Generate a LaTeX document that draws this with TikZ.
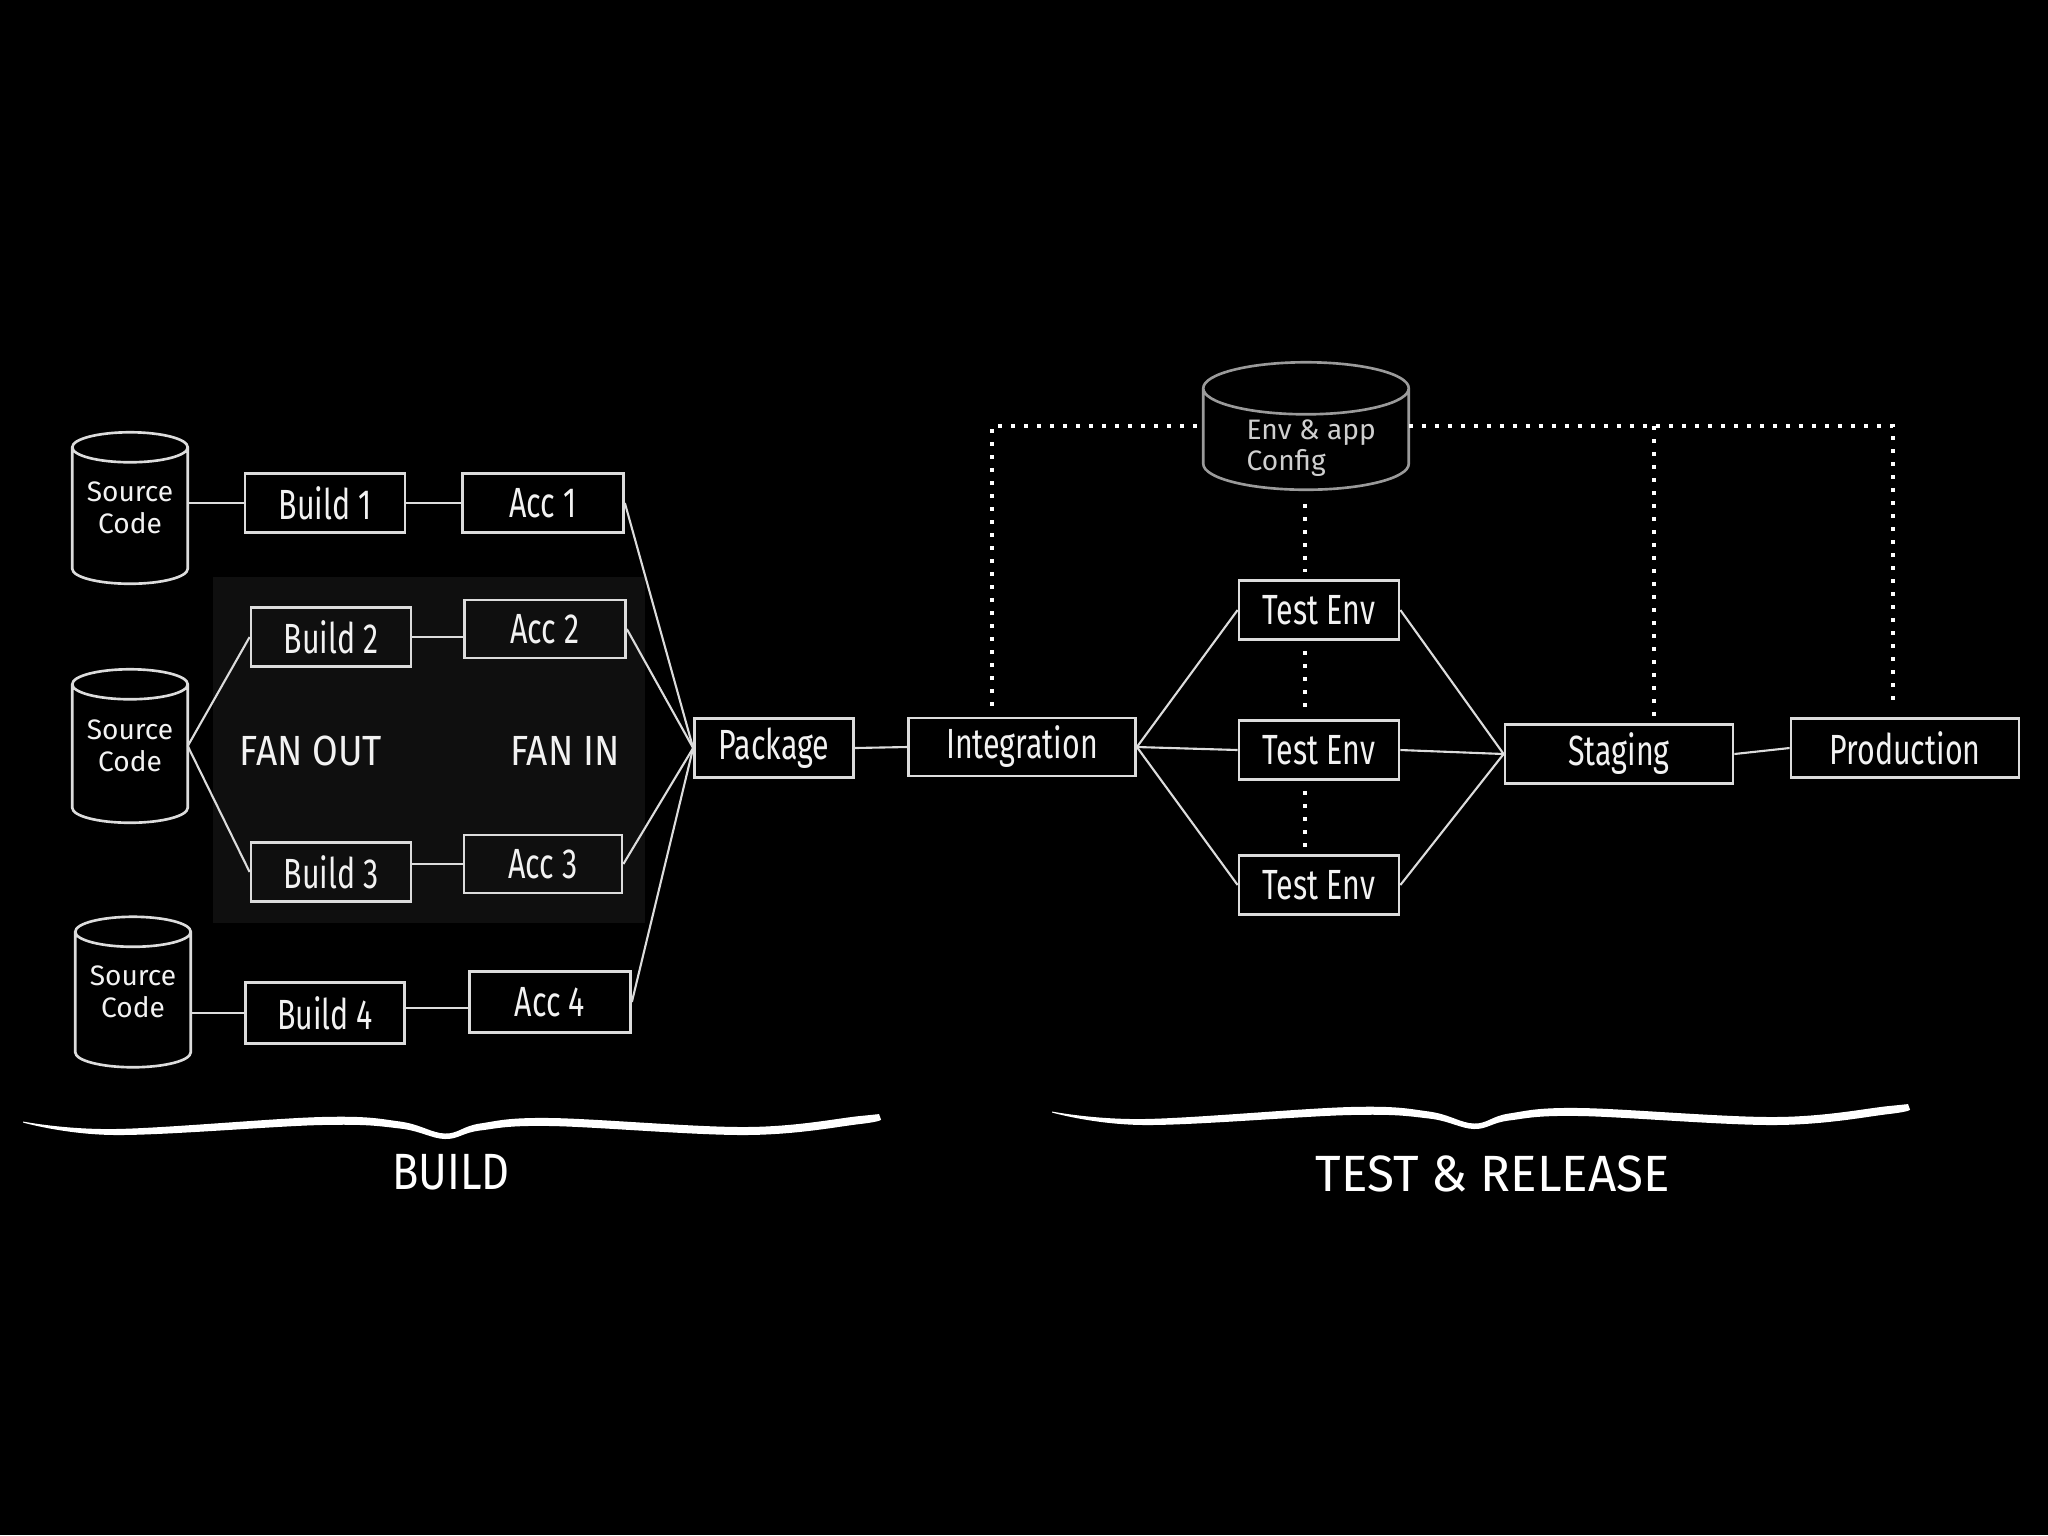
\documentclass[tikz,border=0pt]{standalone}
\usepackage{fontspec}
\setmainfont{Fira Sans}
\newfontfamily\handn[FakeStretch=0.72]{Fira Sans}
\newfontfamily\handm[FakeStretch=0.88]{Fira Sans}
\newfontfamily\handb[FakeStretch=0.85]{Fira Sans}
\newfontfamily\handw[FakeStretch=0.97]{Fira Sans}
\usetikzlibrary{calc}

\definecolor{ink}{HTML}{DCDCDC}
\definecolor{txt}{HTML}{F2F2F2}
\definecolor{envgray}{HTML}{9A9A9A}
\definecolor{envtxt}{HTML}{CFCFCF}
\definecolor{panel}{HTML}{0F0F0F}

\tikzset{
  stage/.style={draw=ink, line width=0.75pt, minimum height=0.59cm, inner sep=0pt,
    font=\handn\fontsize{12pt}{14pt}\selectfont, text=txt},
  link/.style={draw=ink, line width=0.6pt},
  dots/.style={draw=white, line width=1.15pt, dash pattern=on 1.15pt off 2.55pt},
  dbnode/.style={minimum width=1.14cm, inner sep=0pt, align=center,
    font=\fontsize{8pt}{9pt}\selectfont, text=txt},
  biglabel/.style={font=\fontsize{14.5pt}{16pt}\selectfont, text=white},
  fanlabel/.style={font=\handm\fontsize{12pt}{14pt}\selectfont, text=txt},
  wavebrace/.pic={
    \fill[white] plot[smooth, tension=0.6] coordinates {(23,-1121.5) (115,-1129) (321,-1117) (400,-1121.5) (445,-1133.5) (480,-1123.5) (551,-1118) (746,-1127) (860,-1116) (879,-1114)}
      -- plot[smooth, tension=0.6] coordinates {(881,-1119.5) (860,-1124) (746,-1135) (551,-1126) (480,-1130.5) (445,-1139) (400,-1128.5) (321,-1125) (115,-1135) (23,-1122.5)} -- cycle;
  },
}

% cylinder outline around a named node: #1 name, #2 ellipse y radius, #3 colour
\newcommand\drawdb[3]{%
  \draw[line width=0.75pt, draw=#3] let \p1=(#1.north west), \p2=(#1.south east) in
    (\x1,\y1-#2) -- (\x1,\y2+#2)
    arc[start angle=180, end angle=360, x radius={(\x2-\x1)/2}, y radius=#2]
    -- (\x2,\y1-#2)
    (#1.north) ++(0,-#2) ellipse[x radius={(\x2-\x1)/2}, y radius=#2];
}

\begin{document}
\begin{tikzpicture}[x=0.01cm, y=0.01cm]
\fill[black] (0,0) rectangle (2048,-1535);
\useasboundingbox (0,0) rectangle (2048,-1535);

% fan-out / fan-in panel
\fill[panel] (213,-577) rectangle (645,-923);

% source code stores
\node[dbnode, minimum height=1.50cm] (sc1) at (130,-508) {Source\\Code};
\node[dbnode, minimum height=1.52cm] (sc2) at (130,-746) {Source\\Code};
\node[dbnode, minimum height=1.49cm] (sc3) at (133,-992) {Source\\Code};
\drawdb{sc1}{0.15cm}{ink}
\drawdb{sc2}{0.15cm}{ink}
\drawdb{sc3}{0.15cm}{ink}

% env config store
\node[minimum width=2.04cm, minimum height=1.26cm, inner sep=0pt] (env) at (1306,-426) {};
\drawdb{env}{0.26cm}{envgray}
\node[anchor=west, align=left, inner sep=0pt, text=envtxt,
      font=\fontsize{8pt}{7.2pt}\selectfont] (envlabel) at (1246,-448) {Env \& app\\Config};

% build stages
\node[stage, minimum width=1.60cm] (b1) at (325,-503) {Build 1};
\node[stage, minimum width=1.61cm] (a1) at (543,-503) {Acc 1};
\node[stage, minimum width=1.60cm] (b2) at (331,-637) {Build 2};
\node[stage, minimum width=1.61cm, minimum height=0.58cm] (a2) at (545,-629) {Acc 2};
\node[stage, minimum width=1.60cm] (b3) at (331,-872) {Build 3};
\node[stage, minimum width=1.58cm, minimum height=0.58cm] (a3) at (543,-864) {Acc 3};
\node[stage, minimum width=1.59cm, minimum height=0.61cm] (b4) at (325,-1013) {Build 4};
\node[stage, minimum width=1.61cm, minimum height=0.61cm] (a4) at (550,-1002) {Acc 4};

\node[fanlabel] (fanout) at (311,-751) {FAN OUT};
\node[fanlabel] (fanin) at (565,-751) {FAN IN};

% release stages
\node[stage, minimum width=1.59cm] (pkg) at (774,-748) {Package};
\node[stage, minimum width=2.27cm, minimum height=0.58cm] (integ) at (1022,-747) {Integration};
\node[stage, minimum width=1.60cm] (t1) at (1319,-610) {Test Env};
\node[stage, minimum width=1.60cm] (t2) at (1319,-750) {Test Env};
\node[stage, minimum width=1.60cm] (t3) at (1319,-885) {Test Env};
\node[stage, minimum width=2.28cm] (stg) at (1619,-754) {Staging};
\node[stage, minimum width=2.28cm] (prod) at (1905,-748) {Production};

% solid connectors
\coordinate (row4) at (0,-1008);
\draw[link] (sc1.east |- b1.west) -- (b1.west);
\draw[link] (b1.east) -- (a1.west);
\draw[link] (sc2.east) -- (b2.west);
\draw[link] (sc2.east) -- (b3.west);
\draw[link] (b2.east) -- (a2.west |- b2.east);
\draw[link] (b3.east |- a3.west) -- (a3.west);
\draw[link] (sc3.east |- b4.west) -- (b4.west);
\draw[link] (b4.east |- row4) -- (a4.west |- row4);
\draw[link] (a1.east) -- (pkg.west);
\draw[link] (a2.east) -- (pkg.west);
\draw[link] (a3.east) -- (pkg.west);
\draw[link] (a4.east) -- (pkg.west);
\draw[link] (pkg.east) -- (integ.west);
\draw[link] (integ.east) -- (t1.west);
\draw[link] (integ.east) -- (t2.west);
\draw[link] (integ.east) -- (t3.west);
\draw[link] (t1.east) -- (stg.west);
\draw[link] (t2.east) -- (stg.west);
\draw[link] (t3.east) -- (stg.west);
\draw[link] (stg.east) -- (prod.west);

% dotted config lines
\coordinate (d1) at (992,-426);
\coordinate (d2) at (1654,-426);
\coordinate (d3) at (1893,-426);
\coordinate (d4) at (1305,-426);
\draw[dots] ([yshift=3pt]d1 |- integ.north) -- (d1) -- (env.west);
\draw[dots] (env.east) -- (d3) -- ([yshift=3pt]d3 |- prod.north);
\draw[dots] (d2) -- ([yshift=2pt]d2 |- stg.north);
\draw[dots] ([yshift=-4pt]d4 |- env.south) -- ([yshift=2pt]d4 |- t1.north);
\draw[dots] ([yshift=-3pt]d4 |- t1.south) -- ([yshift=2pt]d4 |- t2.north);
\draw[dots] ([yshift=-3pt]d4 |- t2.south) -- ([yshift=2pt]d4 |- t3.north);

% under-braces
\pic at (0,0) {wavebrace};
\pic at (1029,10) {wavebrace};

\node[biglabel, font=\handb\fontsize{14.5pt}{16pt}\selectfont] (buildlabel) at (451,-1172) {BUILD};
\node[biglabel, font=\handw\fontsize{14.5pt}{16pt}\selectfont] (testlabel) at (1493,-1174) {TEST \& RELEASE};
\end{tikzpicture}
\end{document}
